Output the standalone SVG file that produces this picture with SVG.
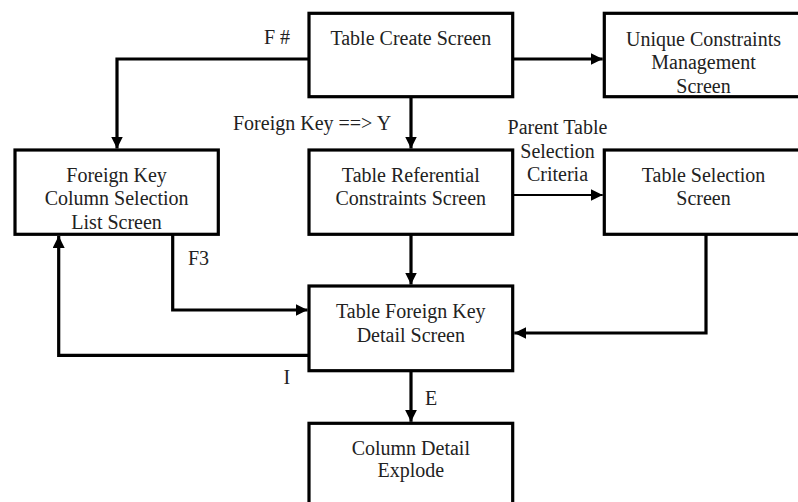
<svg xmlns="http://www.w3.org/2000/svg" width="798" height="502" viewBox="0 0 798 502">
  <style>
    .box { fill: #ffffff; stroke: #000000; stroke-width: 3.2; }
    .t { font-family: "Liberation Serif", "Times New Roman", serif; font-size: 20px; fill: #222222; text-anchor: middle; }
    .lbl { font-family: "Liberation Serif", "Times New Roman", serif; font-size: 20px; fill: #222222; }
    .wire { fill: none; stroke: #000000; stroke-width: 3.2; stroke-linejoin: miter; }
    .thin { fill: none; stroke: #000000; stroke-width: 1.8; }
  </style>
  <defs>
    <marker id="arr" viewBox="0 0 12 12" refX="12" refY="6" markerWidth="12" markerHeight="12" markerUnits="userSpaceOnUse" orient="auto">
      <path d="M0,0 L12,6 L0,12 Z" fill="#000000"/>
    </marker>
  </defs>

  <rect width="798" height="502" fill="#ffffff"/>

  <!-- connectors -->
  <g id="connectors">
    <path class="wire" d="M309,59 H117 V148.5" marker-end="url(#arr)"/>
    <path class="wire" d="M512.7,59 H602.7" marker-end="url(#arr)"/>
    <path class="wire" d="M411,96.7 V148.5" marker-end="url(#arr)"/>
    <path class="thin" d="M512.7,195 H602.7" marker-end="url(#arr)"/>
    <path class="wire" d="M411,234.3 V284.5" marker-end="url(#arr)"/>
    <path class="wire" d="M706,234.3 V333 H514.3" marker-end="url(#arr)"/>
    <path class="wire" d="M172.7,234.3 V310 H307.5" marker-end="url(#arr)"/>
    <path class="wire" d="M309,355.3 H58.7 V235.9" marker-end="url(#arr)"/>
    <path class="wire" d="M411,370.7 V421.8" marker-end="url(#arr)"/>

    <text class="lbl" x="264" y="43.5">F #</text>
    <text class="lbl" x="233" y="129.5">Foreign Key ==&gt; Y</text>
    <text class="t" x="557.5" y="133.5">Parent Table</text>
    <text class="t" x="557.5" y="157.5">Selection</text>
    <text class="t" x="557.5" y="180.5">Criteria</text>
    <text class="lbl" x="188" y="265">F3</text>
    <text class="lbl" x="283.5" y="384">I</text>
    <text class="lbl" x="425" y="405">E</text>
  </g>

  <g id="table-create">
    <rect class="box" x="309" y="13.3" width="203.7" height="83.4"/>
    <text class="t" x="410.8" y="45">Table Create Screen</text>
  </g>

  <g id="unique-constraints">
    <rect class="box" x="604.3" y="13.3" width="203.7" height="83.4"/>
    <text class="t" x="703.5" y="45.5">Unique Constraints</text>
    <text class="t" x="703.5" y="69">Management</text>
    <text class="t" x="703.5" y="92.5">Screen</text>
  </g>

  <g id="fk-column-selection">
    <rect class="box" x="15" y="150" width="203.3" height="84.3"/>
    <text class="t" x="116.6" y="181.5">Foreign Key</text>
    <text class="t" x="116.6" y="205">Column Selection</text>
    <text class="t" x="116.6" y="229">List Screen</text>
  </g>

  <g id="table-referential">
    <rect class="box" x="309" y="150" width="203.7" height="84.3"/>
    <text class="t" x="410.8" y="181.5">Table Referential</text>
    <text class="t" x="410.8" y="205">Constraints Screen</text>
  </g>

  <g id="table-selection">
    <rect class="box" x="604.3" y="150" width="203.7" height="84.3"/>
    <text class="t" x="703.5" y="181.5">Table Selection</text>
    <text class="t" x="703.5" y="205">Screen</text>
  </g>

  <g id="table-fk-detail">
    <rect class="box" x="309" y="286" width="203.7" height="84.7"/>
    <text class="t" x="410.8" y="318">Table Foreign Key</text>
    <text class="t" x="410.8" y="341.5">Detail Screen</text>
  </g>

  <g id="column-detail">
    <rect class="box" x="309" y="423.3" width="203.7" height="84.7"/>
    <text class="t" x="410.8" y="454.5">Column Detail</text>
    <text class="t" x="410.8" y="476.5">Explode</text>
  </g>
</svg>
